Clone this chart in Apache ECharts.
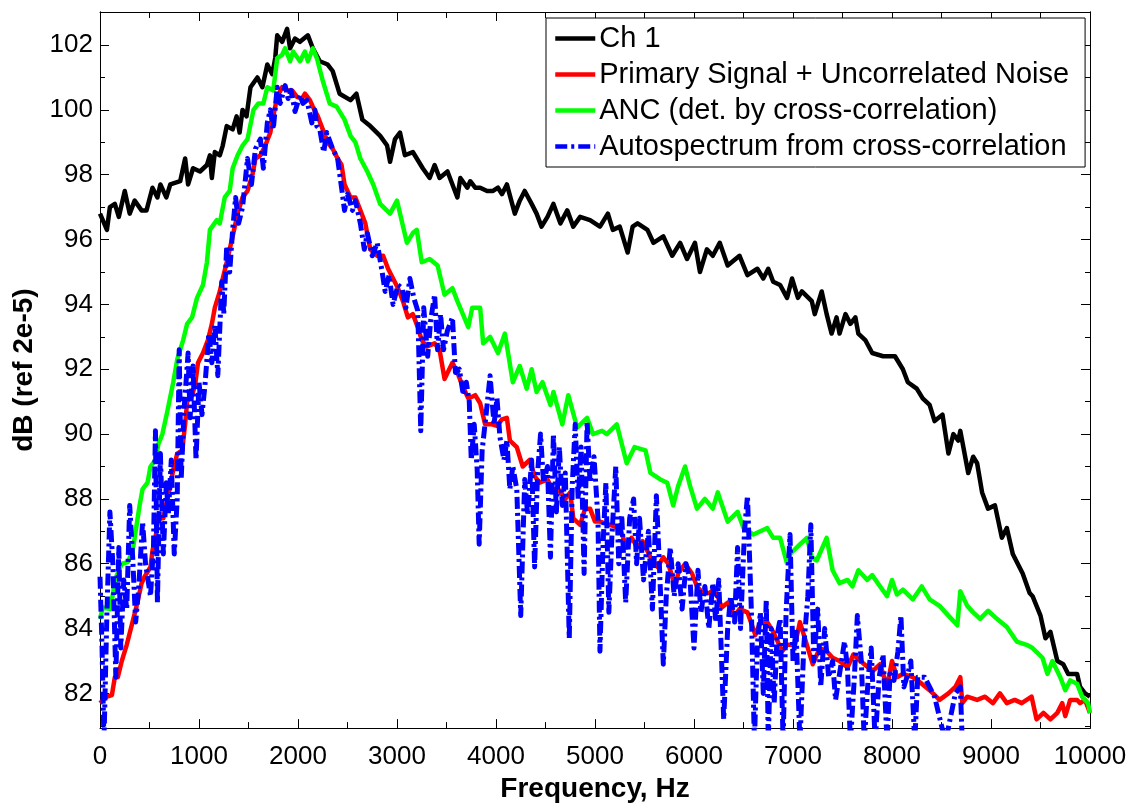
<!DOCTYPE html>
<html>
<head>
<meta charset="utf-8">
<script src="https://cdn.jsdelivr.net/npm/echarts@6/dist/echarts.min.js"></script>
<style>
html,body{margin:0;padding:0;background:#fff;}
#chart{width:1138px;height:808px;}
</style>
</head>
<body>
<div id="chart"></div>
<script>
// ---------- data ----------
var xTicks = [0,1000,2000,3000,4000,5000,6000,7000,8000,9000,10000];
var yTicksMajor = [82,84,86,88,90,92,94,96,98,100,102];
var yTicksMinor = [81,83,85,87,89,91,93,95,97,99,101];

var seriesNames = ['Ch 1','Primary Signal + Uncorrelated Noise','ANC (det. by cross-correlation)','Autospectrum from cross-correlation'];

var ch1F = [0,70,100,150,190,250,300,350,420,470,530,580,610,670,710,810,860,890,940,1010,1080,1110,1130,1160,1210,1240,1280,1340,1380,1410,1440,1480,1520,1590,1640,1690,1740,1770,1790,1840,1890,1920,1970,2020,2100,2150,2220,2300,2350,2420,2530,2590,2650,2730,2830,2900,2930,2980,3030,3080,3160,3260,3330,3380,3430,3510,3560,3610,3640,3710,3740,3790,3840,3910,3970,4020,4060,4110,4190,4240,4290,4360,4410,4460,4520,4580,4650,4720,4780,4850,4950,5050,5130,5180,5250,5330,5380,5430,5530,5590,5690,5780,5860,5930,6010,6060,6130,6190,6260,6340,6460,6540,6640,6700,6750,6800,6870,6940,6990,7050,7090,7190,7220,7290,7340,7390,7440,7470,7530,7580,7630,7660,7730,7800,7910,8030,8110,8160,8250,8310,8380,8430,8510,8570,8620,8670,8690,8770,8820,8860,8910,8970,9040,9110,9160,9220,9320,9390,9420,9500,9550,9600,9670,9730,9780,9870,9900,9950,10000];
var ch1V = [96.8,96.3,97.0,97.1,96.7,97.5,96.8,97.2,96.9,96.9,97.6,97.3,97.7,97.3,97.7,97.8,98.5,97.7,98.2,98.1,98.3,98.6,97.9,98.7,98.6,98.9,99.5,99.4,99.8,99.3,100.0,99.8,100.7,101.0,100.7,101.4,101.1,101.6,102.3,102.1,102.5,101.9,102.2,102.1,102.3,101.9,101.5,101.4,101.2,100.5,100.3,100.5,99.7,99.5,99.2,98.9,98.4,99.1,99.3,98.6,98.7,98.2,97.9,98.3,97.9,98.1,97.7,97.3,97.9,97.6,97.8,97.6,97.6,97.5,97.5,97.6,97.4,97.7,96.8,97.2,97.5,97.1,96.8,96.4,96.7,97.1,96.5,96.9,96.4,96.7,96.6,96.4,96.8,96.3,96.4,95.6,96.4,96.5,96.3,95.9,96.1,95.5,95.9,95.4,95.9,95.0,95.7,95.5,95.9,95.2,95.5,94.9,95.1,94.8,95.1,94.7,94.6,94.2,94.8,94.2,94.4,94.1,93.7,94.4,93.7,93.1,93.6,93.1,93.7,93.4,93.6,93.1,92.9,92.5,92.4,92.4,92.0,91.6,91.4,91.1,90.9,90.4,90.6,89.4,90.0,89.8,90.1,88.8,89.3,89.1,88.2,87.7,87.8,86.8,87.1,86.3,85.7,85.1,85.0,84.4,83.7,83.9,83.0,82.9,82.6,82.6,82.2,82.0,81.9];

var primF = [0,70,120,150,180,220,270,320,370,420,450,510,530,560,590,640,680,710,740,780,830,860,880,930,960,990,1040,1090,1130,1160,1210,1240,1280,1310,1340,1390,1440,1490,1540,1570,1620,1670,1720,1750,1790,1840,1890,1940,1990,2040,2070,2120,2150,2200,2250,2300,2350,2400,2440,2470,2530,2580,2630,2680,2730,2800,2860,2910,2960,3010,3060,3110,3160,3210,3250,3300,3380,3430,3480,3560,3610,3660,3720,3790,3840,3890,3960,4010,4060,4110,4140,4210,4270,4340,4390,4440,4520,4570,4630,4700,4750,4780,4850,4900,4950,5000,5050,5150,5250,5320,5370,5430,5480,5560,5630,5690,5740,5810,5840,5910,5980,6030,6090,6160,6210,6280,6340,6410,6460,6540,6620,6670,6740,6800,6890,6940,7020,7070,7140,7200,7270,7340,7400,7470,7550,7610,7680,7760,7810,7880,7950,8000,8050,8110,8210,8300,8380,8480,8570,8640,8690,8710,8760,8860,8940,9020,9090,9160,9240,9310,9410,9460,9530,9600,9670,9720,9750,9800,9870,9900,9950,10000];
var primV = [81.7,81.9,81.95,82.5,82.5,83.0,83.5,84.1,84.7,85.4,85.6,85.9,86.4,86.8,87.4,87.4,88.0,88.4,88.9,89.4,89.5,90.3,91.0,91.2,91.5,92.2,92.5,92.9,93.4,93.9,94.4,94.8,95.3,95.7,96.1,96.8,97.3,97.5,98.0,98.5,98.6,98.9,99.3,99.8,100.4,100.7,100.6,100.6,100.4,100.35,100.5,100.3,100.1,99.8,99.4,99.0,98.8,98.5,98.3,97.7,97.3,97.3,96.9,96.5,95.7,95.5,95.5,95.1,94.8,94.5,94.1,93.6,93.7,93.3,92.9,92.7,92.8,92.6,91.7,92.2,91.9,91.5,91.1,91.2,90.95,90.3,90.3,90.25,90.45,90.5,89.8,89.6,89.0,89.2,88.7,88.5,88.6,88.3,88.3,88.0,88.2,87.4,87.2,87.7,87.7,87.3,87.3,87.2,87.1,86.5,86.8,86.5,86.7,86.2,85.9,86.2,86.0,85.3,85.7,86.0,85.7,85.3,85.1,85.1,85.25,84.65,84.8,84.4,84.6,84.5,83.8,84.2,84.2,83.9,83.3,83.5,83.5,84.2,83.5,82.9,83.4,83.3,83.1,83.0,82.8,83.2,83.0,82.8,82.7,82.9,82.2,83.0,82.5,82.6,82.5,82.3,82.1,81.8,82.0,82.2,82.5,81.7,81.9,81.8,81.9,81.7,82.0,81.7,81.8,81.7,81.9,81.2,81.4,81.2,81.4,81.7,81.3,81.8,81.8,81.7,81.8,81.4];

var ancF = [0,30,100,130,150,220,280,330,360,400,430,480,510,560,590,630,680,740,780,840,880,930,980,1040,1080,1110,1180,1210,1260,1310,1340,1390,1440,1490,1550,1600,1650,1690,1750,1790,1840,1870,1920,1950,2020,2070,2100,2150,2190,2250,2320,2390,2470,2530,2580,2630,2700,2760,2830,2930,3000,3100,3160,3200,3250,3330,3410,3480,3560,3610,3720,3760,3840,3870,3940,4020,4090,4170,4240,4310,4360,4410,4470,4550,4580,4670,4730,4820,4920,4980,5070,5120,5220,5320,5400,5510,5560,5660,5730,5790,5840,5910,5960,6030,6110,6190,6240,6340,6440,6500,6600,6740,6800,6870,6940,6970,7070,7140,7190,7240,7340,7400,7470,7550,7600,7660,7750,7800,7880,7950,8000,8050,8110,8210,8300,8380,8480,8570,8660,8690,8760,8820,8890,8970,9060,9160,9260,9360,9420,9520,9570,9620,9700,9750,9800,9870,9920,9980,10000];
var ancV = [84.3,84.65,84.6,85.05,85.5,86.0,86.05,86.4,87.0,87.8,88.3,88.5,89.0,89.2,89.7,90.0,90.7,91.6,92.3,92.9,93.4,93.6,94.2,94.6,95.3,96.3,96.6,96.5,97.3,97.5,98.2,98.6,98.9,99.1,100.0,100.2,100.2,100.7,100.6,101.6,101.7,101.9,101.5,101.8,101.5,101.8,101.5,101.9,101.6,100.9,100.2,100.1,99.7,99.2,99.0,98.5,98.1,97.7,97.1,96.8,97.2,95.9,96.2,96.3,95.3,95.4,95.2,94.3,94.5,94.1,93.3,93.9,93.9,92.8,93.0,92.5,93.1,91.6,92.1,91.4,92.0,91.3,91.6,90.9,91.3,90.3,91.2,90.2,90.5,90.0,90.1,90.0,90.3,89.1,89.6,89.5,88.8,88.6,88.5,87.8,88.4,89.0,88.4,87.7,88.0,87.7,88.2,87.3,87.6,87.1,86.9,87.1,86.8,86.8,86.0,86.3,86.6,86.8,86.2,86.1,86.8,85.8,85.4,85.5,85.3,85.8,85.5,85.65,85.3,85.0,85.5,85.05,85.2,84.9,85.3,84.9,84.7,84.4,84.1,85.15,84.7,84.5,84.3,84.55,84.3,84.05,83.6,83.5,83.4,83.1,82.6,83.0,82.5,82.1,82.4,82.3,81.9,81.7,81.4];

var autoF = [0,20,40,70,100,130,160,190,210,240,270,300,330,360,390,430,460,510,540,560,580,610,640,670,690,720,750,780,800,820,850,890,910,940,970,1000,1030,1060,1100,1130,1160,1190,1230,1250,1280,1310,1340,1370,1400,1440,1490,1530,1570,1620,1650,1690,1720,1750,1790,1820,1870,1900,1930,1970,2020,2050,2090,2140,2170,2190,2220,2260,2290,2350,2400,2440,2470,2500,2550,2580,2630,2670,2700,2750,2800,2850,2880,2920,2960,3010,3050,3090,3130,3170,3210,3240,3270,3310,3340,3380,3410,3440,3470,3510,3560,3590,3630,3670,3700,3730,3750,3780,3810,3830,3860,3900,3940,3980,4010,4040,4080,4110,4140,4170,4210,4250,4290,4320,4360,4390,4420,4450,4480,4520,4550,4580,4610,4640,4670,4700,4740,4770,4800,4830,4860,4890,4920,4950,4990,5030,5050,5080,5110,5140,5170,5210,5240,5270,5310,5350,5390,5420,5450,5490,5540,5580,5620,5650,5690,5720,5760,5800,5840,5880,5920,5960,6000,6040,6070,6110,6150,6190,6220,6250,6300,6340,6370,6410,6440,6470,6510,6540,6580,6610,6640,6670,6700,6730,6750,6780,6810,6840,6870,6900,6930,6970,7000,7030,7070,7110,7150,7180,7210,7250,7280,7320,7360,7400,7430,7470,7520,7550,7580,7620,7650,7690,7720,7760,7790,7830,7870,7910,7950,7980,8020,8060,8090,8120,8160,8190,8230,8260,8330,8430,8540,8640,8690,8710];
var autoV = [85.6,83.5,80.5,84.5,87.6,86.0,82.5,86.5,83.4,85.5,84.6,87.8,86.2,84.2,85.2,87.3,86.0,85.0,86.5,90.1,84.8,89.4,86.3,88.5,87.5,89.2,86.3,88.0,92.6,88.6,90.8,92.5,90.5,92.1,89.2,91.6,90.6,91.5,93.1,92.2,93.4,91.8,94.7,93.7,95.8,95.0,96.3,97.3,96.5,97.0,98.5,97.7,98.8,99.1,98.2,99.6,100.0,99.4,100.7,100.2,100.75,100.35,100.6,99.95,100.45,100.2,100.3,99.6,100.0,99.5,99.4,98.7,99.3,98.8,98.5,97.6,96.9,97.4,96.9,97.2,96.5,95.7,96.2,95.5,95.9,95.0,94.4,94.9,94.0,94.6,94.5,93.9,94.8,94.2,93.8,90.1,93.9,92.4,93.5,94.3,92.6,93.7,92.6,93.2,93.6,91.9,92.0,91.2,91.6,91.0,89.2,90.3,88.9,86.6,89.5,90.6,91.8,90.3,91.1,89.9,89.2,89.8,88.3,89.0,88.3,84.4,88.6,87.5,89.2,85.9,88.8,90.0,88.5,89.0,86.2,90.0,87.6,89.6,87.8,88.8,83.7,88.4,90.3,88.0,89.6,85.7,90.4,88.5,89.3,87.4,83.3,86.5,88.5,84.5,86.8,89.0,86.0,87.5,84.8,87.4,88.0,86.0,87.4,85.5,87.0,84.6,88.1,86.0,82.9,85.0,86.5,85.0,86.0,84.6,86.0,85.5,83.4,85.8,84.5,85.3,84.0,85.4,84.2,85.5,81.2,84.0,85.0,84.2,86.5,84.0,87.0,88.1,84.5,80.5,83.5,84.5,82.0,84.9,80.5,84.0,81.7,83.8,84.3,80.5,84.5,86.9,83.0,84.0,80.5,83.5,85.0,87.2,83.0,84.6,82.2,84.0,82.5,83.0,81.8,82.6,83.6,82.8,80.5,82.5,84.4,83.0,80.5,82.5,83.4,80.5,82.5,83.2,80.5,82.6,82.4,83.3,84.4,82.2,82.6,83.0,80.5,82.5,82.5,81.9,80.5,82.0,82.2,80.5];

// ---------- build ----------
function pairs(f, v){ return f.map(function(x,i){ return [x, v[i]]; }); }
var FONT = 'Liberation Sans, Arial, Helvetica, sans-serif';
var Y_MIN = 80.93, Y_MAX = 103.02;

function yAxisDef(pos, ticks, len, withLabels){
  return {
    type:'value', position:pos, min:Y_MIN, max:Y_MAX,
    axisLine:{show:true, onZero:false, lineStyle:{color:'#000', width:1}},
    axisTick:{show:true, inside:true, length:len, customValues:ticks, lineStyle:{color:'#000', width:1}},
    axisLabel:{show:withLabels, customValues:ticks, color:'#000', fontSize:26, fontFamily:FONT, margin:7,
      formatter:function(v){ return String(Math.round(v)); }},
    splitLine:{show:false}
  };
}

var chart = echarts.init(document.getElementById('chart'), null, {renderer:'canvas'});
var yAxes = [
  yAxisDef('left', yTicksMajor, 9, true),
  yAxisDef('left', yTicksMinor, 5, false),
  yAxisDef('right', yTicksMajor, 9, false),
  yAxisDef('right', yTicksMinor, 5, false)
];
yAxes[0].name = 'dB (ref 2e-5)';
yAxes[0].nameLocation = 'middle';
yAxes[0].nameGap = 56;
yAxes[0].nameTextStyle = {color:'#000', fontSize:28, fontWeight:'bold', fontFamily:FONT};

function xAxisDef(pos, withLabels){
  return {
    type:'value', position:pos, min:0, max:10000, interval:1000,
    axisLine:{show:true, onZero:false, lineStyle:{color:'#000', width:1}},
    axisTick:{show:true, inside:true, length:9, lineStyle:{color:'#000', width:1}},
    minorTick:{show:true, splitNumber:2, length:6, lineStyle:{color:'#000', width:1}},
    axisLabel:{show:withLabels, color:'#000', fontSize:26, fontFamily:FONT, margin:16,
      customValues: withLabels ? xTicks : undefined,
      formatter:function(v){ return String(Math.round(v)); }},
    splitLine:{show:false}, minorSplitLine:{show:false}
  };
}
var xAxes = [xAxisDef('bottom', true), xAxisDef('top', false)];
xAxes[0].name = 'Frequency, Hz';
xAxes[0].nameLocation = 'middle';
xAxes[0].nameGap = 33;
xAxes[0].nameTextStyle = {color:'#000', fontSize:28, fontWeight:'bold', fontFamily:FONT};

var colors = ['#000000','#ff0000','#00ff00','#0000ff'];
var fs = [ch1F, primF, ancF, autoF];
var vs = [ch1V, primV, ancV, autoV];
var series = seriesNames.map(function(n, i){
  return {
    name:n, type:'line', xAxisIndex:0, yAxisIndex:0,
    data: pairs(fs[i], vs[i]),
    showSymbol:false, symbol:'none', clip:true, animation:false,
    lineStyle:{color:colors[i], width: i===3 ? 5 : 4.5, type: i===3 ? [12,4,3,4] : 'solid', cap:'butt', join:'round'},
    itemStyle:{color:colors[i]},
    emphasis:{disabled:true}
  };
});

chart.setOption({
  animation:false,
  backgroundColor:'#ffffff',
  grid:{left:100, right:48, top:12, bottom:67, containLabel:false},
  xAxis: xAxes,
  yAxis: yAxes,
  legend:{
    show:true, orient:'vertical', left:546, top:18,
    data: seriesNames,
    backgroundColor:'#ffffff', borderColor:'#000', borderWidth:1,
    padding:[6, 16, 6, 7], itemGap:7, itemWidth:40, itemHeight:14,
    itemStyle:{opacity:0},
    lineStyle:{width:4.5},
    textStyle:{color:'#000', fontSize:29, fontFamily:FONT, lineHeight:29, padding:[0,0,0,-1]},
    selectedMode:false
  },
  series: series
});
</script>
</body>
</html>
